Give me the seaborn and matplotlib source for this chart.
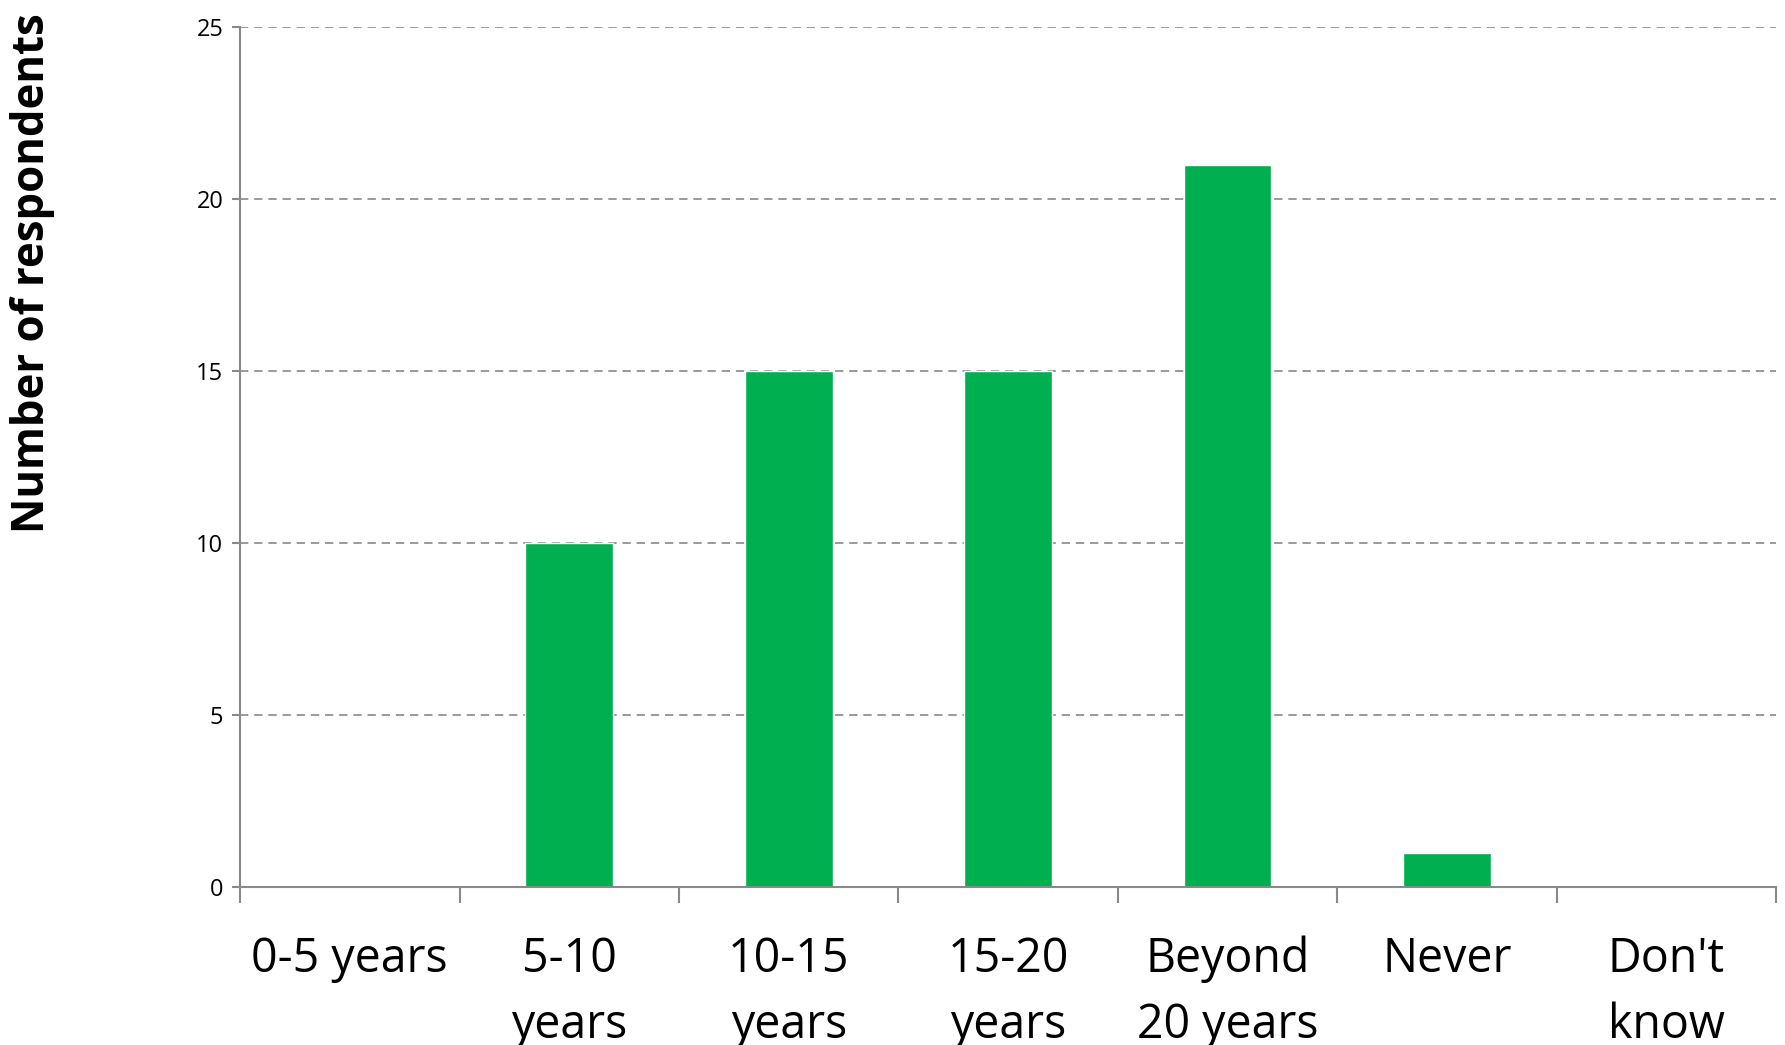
"""
Bar chart: number of respondents by time horizon
"""

import numpy as np
import pandas as pd
import matplotlib
matplotlib.use('Agg')
import matplotlib.pyplot as plt
import seaborn as sns

# Data
categories = ['0-5 years', '5-10\nyears', '10-15\nyears', '15-20\nyears',
              'Beyond\n20 years', 'Never', "Don't\nknow"]
respondents = [0, 10, 15, 15, 21, 1, 0]
y_ticks = [0, 5, 10, 15, 20, 25]

df = pd.DataFrame({'category': categories, 'respondents': respondents})

sns.set_style('white')
plt.rcParams['font.family'] = ['Open Sans', 'DejaVu Sans']
plt.rcParams['text.color'] = 'black'
plt.rcParams['xtick.color'] = 'black'
plt.rcParams['ytick.color'] = 'black'

grey = '#898989'
green = '#00B050'

fig = plt.figure(figsize=(17.85, 10.45), dpi=100)
ax = fig.add_axes([0.1345, 0.1512, 0.8605, 0.8228])

sns.barplot(data=df, x='category', y='respondents', color=green,
            width=0.4, saturation=1, ax=ax, zorder=3)

n = len(categories)
ax.set_xlim(-0.5, n - 0.5)
ax.set_ylim(0, 25)

# Excel-style: ticks between categories, labels centred
ax.set_xticks(np.arange(n + 1) - 0.5)
ax.set_xticklabels([])
ax.set_xticks(np.arange(n), minor=True)
ax.set_xticklabels(categories, minor=True, fontsize=33.5,
                   linespacing=1.5, va='top', color='black')
ax.tick_params(axis='x', which='major', direction='out', length=11.5,
               width=1.5, color=grey, bottom=True)
ax.tick_params(axis='x', which='minor', length=0, pad=35, bottom=True)

ax.set_yticks(y_ticks)
ax.set_yticklabels([str(v) for v in y_ticks], fontsize=17, color='black')
ax.tick_params(axis='y', direction='out', length=6, width=1.5,
               color=grey, pad=6, left=True)

ax.yaxis.grid(True, linestyle=(0, (5, 3.5)), color=grey, linewidth=1.2, zorder=0)
ax.set_axisbelow(True)

for side in ['top', 'right']:
    ax.spines[side].set_visible(False)
for side in ['left', 'bottom']:
    ax.spines[side].set_color(grey)
    ax.spines[side].set_linewidth(1.5)
ax.spines['bottom'].set_zorder(4)

ax.set_xlabel('')
ax.set_ylabel('')
fig.text(0.018, 1 - 273 / 1045, 'Number of respondents', rotation=90,
         fontsize=31.5, fontweight='bold', ha='center', va='center',
         color='black')

plt.savefig('out.png', dpi=100)
plt.close()
